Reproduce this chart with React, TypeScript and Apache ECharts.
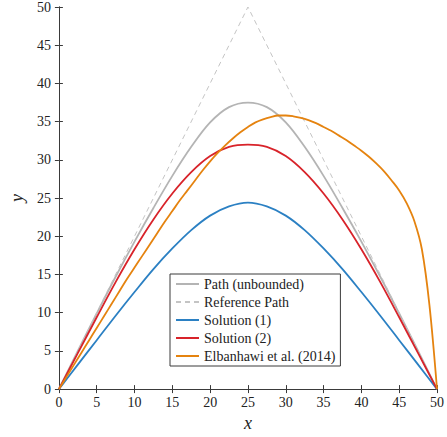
import React, { useEffect, useRef } from "react";
import * as echarts from "echarts";

const xSym = [0, 2.5, 5, 7.5, 10, 12.5, 15, 17.5, 20, 22.5, 25, 27.5, 30, 32.5, 35, 37.5, 40, 42.5, 45, 47.5, 50];
const pathUnbounded = [0, 5.0, 9.9, 14.7, 19.3, 23.7, 27.9, 31.7, 34.9, 36.9, 37.5, 36.9, 34.9, 31.7, 27.9, 23.7, 19.3, 14.7, 9.9, 5.0, 0];
const solution2 = [0, 4.7, 9.4, 14.0, 18.3, 22.2, 25.6, 28.4, 30.5, 31.7, 32.0, 31.7, 30.5, 28.4, 25.6, 22.2, 18.3, 14.0, 9.4, 4.7, 0];
const solution1 = [0, 3.2, 6.4, 9.6, 12.7, 15.7, 18.4, 20.8, 22.7, 23.9, 24.4, 23.9, 22.7, 20.8, 18.4, 15.7, 12.7, 9.6, 6.4, 3.2, 0];
const refX = [0, 25, 50];
const refY = [0, 50, 0];
const elbX = [
  0, 1, 2, 3, 4, 5, 6, 7, 8, 9, 10, 11, 12, 13, 14, 15, 16, 17, 18, 19, 20, 21, 22, 23, 24, 25,
  26, 27, 28, 29, 30, 31, 32, 33, 34, 35, 36, 37, 38, 39, 40, 41, 42, 43, 44, 45, 46, 47, 48, 49, 50,
];
const elbY = [
  0, 1.6, 3.2, 4.8, 6.4, 8.0, 9.6, 11.2, 12.8, 14.4, 15.9, 17.4, 18.9, 20.4, 21.9, 23.3, 24.7, 26.0, 27.3, 28.6, 29.8,
  30.9, 31.9, 32.8, 33.6, 34.3, 34.9, 35.3, 35.6, 35.8, 35.8, 35.7, 35.5, 35.2, 34.8, 34.3, 33.8, 33.2, 32.6, 31.9, 31.2,
  30.4, 29.5, 28.5, 27.3, 26.0, 24.3, 22.0, 18.3, 11.0, 0,
];
const xTicks = [0, 5, 10, 15, 20, 25, 30, 35, 40, 45, 50];
const yTicks = [0, 5, 10, 15, 20, 25, 30, 35, 40, 45, 50];

const names = ["Path (unbounded)", "Reference Path", "Solution (1)", "Solution (2)", "Elbanhawi et al. (2014)"];
const colors = ["#b4b4b4", "#c4c4c4", "#2b80c3", "#d8232a", "#e5830f"];

const FONT = "Liberation Serif";
const AXIS_COLOR = "#3a3a3a";

function pairs(xs: number[], ys: number[]) {
  return xs.map((x, i) => [x, ys[i]]);
}

export default function App() {
  const ref = useRef<HTMLDivElement>(null);
  useEffect(() => {
    if (!ref.current) return;
    const chart = echarts.init(ref.current, null, { renderer: "svg" });
    const axisCommon = {
      type: "value" as const,
      min: 0,
      max: 50,
      interval: 5,
      axisLine: { show: true, lineStyle: { color: AXIS_COLOR, width: 1 } },
      axisTick: { show: true, inside: true, length: 4, lineStyle: { color: AXIS_COLOR } },
      splitLine: { show: false },
    };
    const lineWidth = 1.8;
    const smooth = 0.35;
    chart.setOption({
      animation: false,
      backgroundColor: "#ffffff",
      textStyle: { fontFamily: FONT },
      grid: { left: 47, top: 7, right: 8, bottom: 39, containLabel: false },
      xAxis: [
        {
          ...axisCommon,
          position: "bottom",
          name: "x",
          nameLocation: "middle",
          nameGap: 20,
          nameTextStyle: { fontFamily: FONT, fontSize: 18, fontStyle: "italic", color: "#222" },
          axisLabel: {
            margin: 6,
            fontFamily: FONT,
            fontSize: 14,
            color: "#222",
            formatter: (v: number) => (xTicks.includes(v) ? String(v) : ""),
          },
        },
        { ...axisCommon, position: "top", axisLabel: { show: false } },
      ],
      yAxis: [
        {
          ...axisCommon,
          position: "left",
          name: "y",
          nameLocation: "middle",
          nameGap: 28,
          nameTextStyle: { fontFamily: FONT, fontSize: 18, fontStyle: "italic", color: "#222" },
          axisLabel: {
            margin: 8,
            fontFamily: FONT,
            fontSize: 14,
            color: "#222",
            formatter: (v: number) => (yTicks.includes(v) ? String(v) : ""),
          },
        },
        { ...axisCommon, position: "right", axisLabel: { show: false } },
      ],
      legend: {
        orient: "vertical",
        left: 170,
        top: 274,
        padding: [3, 5, 3, 5],
        itemWidth: 23,
        itemHeight: 14,
        itemGap: 4,
        backgroundColor: "#ffffff",
        borderColor: AXIS_COLOR,
        borderWidth: 1,
        borderRadius: 0,
        itemStyle: { color: "rgba(0,0,0,0)", borderColor: "rgba(0,0,0,0)", borderWidth: 0, opacity: 0 },
        textStyle: { fontFamily: FONT, fontSize: 14, color: "#222" },
        data: names,
      },
      series: [
        {
          name: names[0],
          type: "line",
          data: pairs(xSym, pathUnbounded),
          smooth,
          symbol: "none",
          lineStyle: { color: colors[0], width: lineWidth },
          itemStyle: { color: colors[0] },
        },
        {
          name: names[1],
          type: "line",
          data: pairs(refX, refY),
          symbol: "none",
          lineStyle: { color: colors[1], width: 1, type: [5, 4] },
          itemStyle: { color: colors[1] },
        },
        {
          name: names[2],
          type: "line",
          data: pairs(xSym, solution1),
          smooth,
          symbol: "none",
          lineStyle: { color: colors[2], width: lineWidth },
          itemStyle: { color: colors[2] },
        },
        {
          name: names[3],
          type: "line",
          data: pairs(xSym, solution2),
          smooth,
          symbol: "none",
          lineStyle: { color: colors[3], width: lineWidth },
          itemStyle: { color: colors[3] },
        },
        {
          name: names[4],
          type: "line",
          data: pairs(elbX, elbY),
          smooth,
          symbol: "none",
          lineStyle: { color: colors[4], width: lineWidth },
          itemStyle: { color: colors[4] },
        },
      ],
    });
    return () => chart.dispose();
  }, []);
  return <div ref={ref} style={{ width: 447, height: 437, position: "absolute", left: 0, top: 0 }} />;
}
